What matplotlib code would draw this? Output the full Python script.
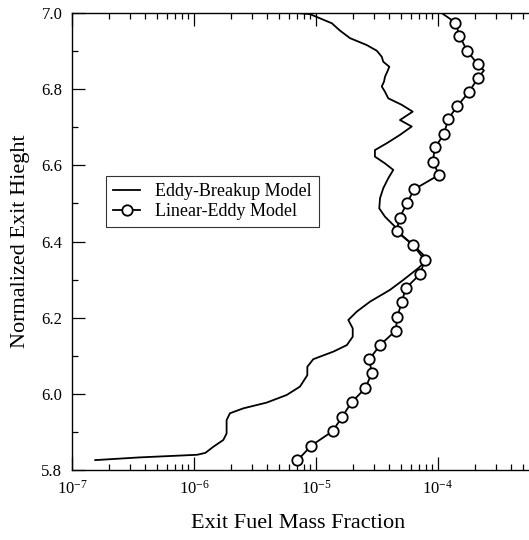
import matplotlib
matplotlib.use("Agg")
import matplotlib.pyplot as plt
from matplotlib.ticker import LogLocator, MultipleLocator, NullFormatter, FuncFormatter
import numpy as np

plt.rcParams['font.family'] = ['Liberation Serif', 'DejaVu Serif']
plt.rcParams['mathtext.fontset'] = 'custom'
plt.rcParams['mathtext.rm'] = 'Liberation Serif'
plt.rcParams['mathtext.it'] = 'Liberation Serif:italic'
plt.rcParams['axes.unicode_minus'] = False

# Eddy-Breakup model (solid line)
ebu_x = [6.95e-6, 8.93e-6, 1.08e-5, 1.35e-5, 1.57e-5, 1.90e-5, 2.60e-5, 3.15e-5,
         3.46e-5, 3.56e-5, 3.99e-5, 3.84e-5, 3.68e-5, 3.61e-5, 3.46e-5, 3.68e-5,
         3.91e-5, 5.04e-5, 6.20e-5, 4.88e-5, 6.09e-5, 4.88e-5, 3.80e-5, 3.04e-5,
         3.04e-5, 3.68e-5, 4.30e-5, 3.91e-5, 3.56e-5, 3.35e-5, 3.30e-5, 3.68e-5,
         4.44e-5, 5.19e-5, 6.27e-5, 7.58e-5, 8.08e-5, 6.89e-5, 5.19e-5, 4.04e-5,
         2.77e-5, 2.16e-5, 1.84e-5, 2.00e-5, 2.00e-5, 1.79e-5, 1.39e-5, 9.50e-6,
         8.49e-6, 8.49e-6, 7.39e-6, 5.75e-6, 3.94e-6, 2.54e-6, 1.97e-6, 1.85e-6,
         1.85e-6, 1.74e-6, 1.44e-6, 1.24e-6, 1.06e-6, 3.52e-7, 1.55e-7]
ebu_y = [7.000, 6.997, 6.986, 6.973, 6.954, 6.934, 6.916, 6.901,
         6.885, 6.872, 6.859, 6.846, 6.833, 6.820, 6.807, 6.793,
         6.776, 6.759, 6.741, 6.719, 6.702, 6.680, 6.658, 6.640,
         6.623, 6.605, 6.588, 6.566, 6.540, 6.514, 6.487, 6.465,
         6.439, 6.413, 6.391, 6.365, 6.351, 6.330, 6.299, 6.273,
         6.242, 6.216, 6.194, 6.172, 6.150, 6.128, 6.111, 6.091,
         6.071, 6.049, 6.019, 5.997, 5.977, 5.962, 5.949, 5.931,
         5.896, 5.879, 5.861, 5.845, 5.840, 5.833, 5.826]

# Linear-Eddy model (line with circles)
lem_x = [1.07e-4, 1.39e-4, 1.50e-4, 1.73e-4, 2.12e-4, 2.38e-4, 2.12e-4, 1.80e-4,
         1.44e-4, 1.21e-4, 1.12e-4, 9.45e-5, 9.05e-5, 1.02e-4, 6.38e-5, 5.55e-5,
         4.86e-5, 4.57e-5, 6.28e-5, 7.78e-5, 7.16e-5, 5.43e-5, 5.04e-5, 4.64e-5,
         4.50e-5, 3.35e-5, 2.74e-5, 2.86e-5, 2.54e-5, 1.96e-5, 1.64e-5, 1.37e-5,
         9.15e-6, 7.03e-6]
lem_y = [7.000, 6.975, 6.940, 6.901, 6.865, 6.849, 6.829, 6.793,
         6.756, 6.721, 6.682, 6.647, 6.610, 6.575, 6.537, 6.500,
         6.463, 6.427, 6.390, 6.351, 6.315, 6.277, 6.240, 6.203,
         6.166, 6.128, 6.091, 6.054, 6.015, 5.978, 5.940, 5.902,
         5.864, 5.825]
lem_marks = [i for i in range(len(lem_x)) if i not in (0, 5)]

fig = plt.figure(figsize=(5.29, 5.40), dpi=100)
ax = fig.add_axes([0.1361, 0.1296, 0.9225, 0.8463])

ax.plot(ebu_x, ebu_y, color='black', lw=1.3, label='Eddy-Breakup Model')
ax.plot(lem_x, lem_y, color='black', lw=1.3, marker='o', markersize=7.5,
        markerfacecolor='white', markeredgecolor='black', markeredgewidth=1.3,
        markevery=lem_marks, label='Linear-Eddy Model')


def log_lab(v, pos):
    e = int(round(np.log10(v)))
    if e >= -3:
        return ''  # right edge label is cropped away in the original
    return r'$10^{%d}$' % e


ax.set_xscale('log')
ax.set_xlim(1e-7, 1e-3)
ax.set_ylim(5.8, 7.0)
ax.xaxis.set_major_locator(LogLocator(base=10, numticks=10))
ax.xaxis.set_major_formatter(FuncFormatter(log_lab))
ax.xaxis.set_minor_locator(LogLocator(base=10, subs=range(2, 10), numticks=20))
ax.xaxis.set_minor_formatter(NullFormatter())
ax.yaxis.set_major_locator(MultipleLocator(0.2))
ax.yaxis.set_minor_locator(MultipleLocator(0.1))
ax.yaxis.set_major_formatter(plt.FormatStrFormatter('%.1f'))

ax.tick_params(which='both', direction='in', top=True, right=True, labelsize=12)
ax.tick_params(which='major', length=9.4, width=0.9, pad=7)
ax.tick_params(which='minor', length=4.5, width=0.9)
for s in ax.spines.values():
    s.set_linewidth(1.0)

ax.set_xlabel('Exit Fuel Mass Fraction', fontsize=16)
ax.xaxis.set_label_coords(0.463, -0.097)
ax.set_ylabel('Normalized Exit Hieght', fontsize=16, labelpad=8)

leg = ax.legend(loc='upper left', bbox_to_anchor=(0.0697, 0.6433), fontsize=13,
                handlelength=1.5, handletextpad=0.8, labelspacing=0.15,
                borderpad=0.4, borderaxespad=0, fancybox=False, frameon=True)
leg.get_frame().set_edgecolor('black')
leg.get_frame().set_linewidth(0.8)

fig.savefig('out.png', dpi=100)
